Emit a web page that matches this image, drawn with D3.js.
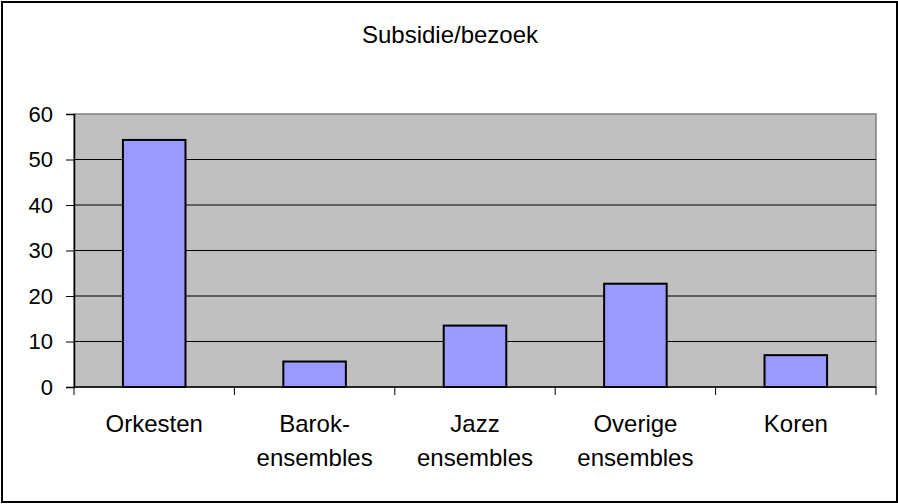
<!DOCTYPE html>
<html lang="nl">
<head>
<meta charset="UTF-8">
<title>Subsidie/bezoek</title>
<style>
    body {
        margin: 0;
        padding: 0;
        background-color: #fff;
    }
    svg text {
        font-family: Arial, "Liberation Sans", sans-serif;
        fill: #000;
    }
</style>
</head>
<body>
<svg id="chart" width="898" height="504"></svg>

<script src="https://d3js.org/d3.v7.min.js"></script>
<script>
    // gegevens uit de grafiek
    var categorieen = ["Orkesten", "Barok-\nensembles", "Jazz\nensembles", "Overige\nensembles", "Koren"];
    var waarden = [54.3, 5.6, 13.5, 22.7, 7.0];
    var yTicks = [0, 10, 20, 30, 40, 50, 60];
    var titel = "Subsidie/bezoek";

    const svg = d3.select("#chart");

    // buitenrand
    svg.append("rect")
      .attr("x", 2).attr("y", 2)
      .attr("width", 895).attr("height", 500)
      .attr("fill", "#fff")
      .attr("stroke", "#000")
      .attr("stroke-width", 2);

    // titel
    svg.append("text")
      .attr("x", 450)
      .attr("y", 43)
      .attr("text-anchor", "middle")
      .attr("font-size", 24)
      .text(titel);

    const pLeft = 74, pRight = 876, pTop = 114, pBottom = 387;

    // schalen
    const xScale = d3.scaleBand()
      .domain(categorieen)
      .range([pLeft, pRight])
      .paddingInner(0.61)
      .paddingOuter(0.305);

    const yScale = d3.scaleLinear()
      .domain([0, 60])
      .range([pBottom, pTop]);

    // plotgebied
    svg.append("rect")
      .attr("x", pLeft).attr("y", pTop)
      .attr("width", pRight - pLeft).attr("height", pBottom - pTop)
      .attr("fill", "#c0c0c0")
      .attr("stroke", "#808080")
      .attr("stroke-width", 1.5);

    // rasterlijnen
    svg.append("g")
      .selectAll("line")
      .data(yTicks.filter(d => d > 0 && d < 60))
      .join("line")
      .attr("x1", pLeft).attr("x2", pRight)
      .attr("y1", d => yScale(d)).attr("y2", d => yScale(d))
      .attr("stroke", "#000")
      .attr("stroke-width", 1);

    // balken
    svg.append("g")
      .selectAll("rect")
      .data(waarden)
      .join("rect")
      .attr("x", (d, i) => xScale(categorieen[i]))
      .attr("y", d => yScale(d))
      .attr("width", xScale.bandwidth())
      .attr("height", d => yScale(0) - yScale(d))
      .attr("fill", "#9999ff")
      .attr("stroke", "#000")
      .attr("stroke-width", 2);

    // y-as
    const yAxis = d3.axisLeft(yScale)
      .tickValues(yTicks)
      .tickSize(8)
      .tickPadding(13);

    const gy = svg.append("g")
      .attr("transform", "translate(" + pLeft + ",0)")
      .call(yAxis);
    gy.select(".domain").attr("stroke", "#000").attr("stroke-width", 1.5);
    gy.selectAll(".tick line").attr("stroke", "#000");
    gy.selectAll(".tick text")
      .attr("font-size", 22)
      .attr("font-family", "Arial, 'Liberation Sans', sans-serif")
      .attr("fill", "#000");

    // x-as
    const gx = svg.append("g");
    gx.append("line")
      .attr("x1", pLeft).attr("x2", pRight)
      .attr("y1", pBottom).attr("y2", pBottom)
      .attr("stroke", "#000")
      .attr("stroke-width", 1.5);

    const step = xScale.step();
    const grenzen = d3.range(categorieen.length + 1).map(i => pLeft + i * step);
    gx.selectAll(".xtick")
      .data(grenzen)
      .join("line")
      .attr("class", "xtick")
      .attr("x1", d => d).attr("x2", d => d)
      .attr("y1", pBottom).attr("y2", pBottom + 8)
      .attr("stroke", "#000");

    // categorie labels
    const labels = gx.selectAll(".xlabel")
      .data(categorieen)
      .join("text")
      .attr("class", "xlabel")
      .attr("text-anchor", "middle")
      .attr("font-size", 24)
      .attr("transform", d => "translate(" + (xScale(d) + xScale.bandwidth() / 2) + ",432)");

    labels.each(function(d) {
      const regels = d.split("\n");
      d3.select(this).selectAll("tspan")
        .data(regels)
        .join("tspan")
        .attr("x", 0)
        .attr("y", (r, i) => i * 34)
        .text(r => r);
    });
</script>
</body>
</html>
